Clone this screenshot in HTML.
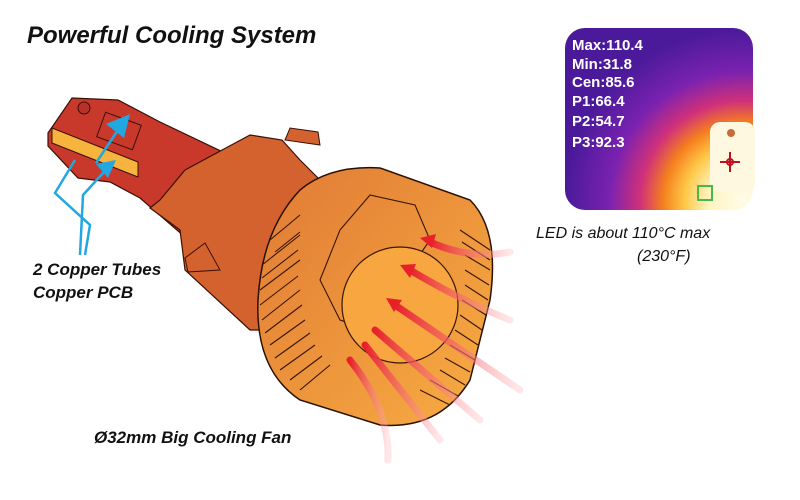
<!DOCTYPE html>
<html><head><style>
body{margin:0;background:#fff;}
#w{position:relative;width:800px;height:500px;overflow:hidden;font-family:"Liberation Sans",sans-serif;}
.t{position:absolute;font-style:italic;color:#111;white-space:nowrap;}
</style></head><body><div id="w">
<svg width="800" height="500" style="position:absolute;left:0;top:0">
<defs>
<radialGradient id="th" cx="0.95" cy="0.95" r="0.95">
<stop offset="0" stop-color="#fffbe8"/><stop offset="0.2" stop-color="#fff4c0"/>
<stop offset="0.33" stop-color="#ffc848"/><stop offset="0.45" stop-color="#f5801e"/>
<stop offset="0.58" stop-color="#d0307a"/><stop offset="0.75" stop-color="#7a22b0"/>
<stop offset="1" stop-color="#4a1a9a"/></radialGradient>
<linearGradient id="hd" x1="0" y1="0" x2="1" y2="1"><stop offset="0" stop-color="#e07a35"/><stop offset="1" stop-color="#f8ad42"/></linearGradient>
<linearGradient id="rf" x1="0" y1="0" x2="1" y2="0"><stop offset="0" stop-color="#e8202a"/><stop offset="1" stop-color="#ffb0b5" stop-opacity="0.3"/></linearGradient>
</defs>
<rect x="565" y="28" width="188" height="182" rx="20" fill="url(#th)"/>
<rect x="710" y="122" width="45" height="70" rx="10" fill="#fff8e0"/>
<circle cx="731" cy="133" r="4" fill="#c86a3a"/>
<g stroke="#c01020" stroke-width="2" fill="none"><circle cx="730" cy="162" r="3"/><line x1="720" y1="162" x2="740" y2="162"/><line x1="730" y1="152" x2="730" y2="172"/></g>
<rect x="698" y="186" width="14" height="14" fill="none" stroke="#4bb84b" stroke-width="2"/>
<g font-family="Liberation Sans" font-size="15" font-weight="bold" fill="#fff">
<text x="572" y="50">Max:110.4</text><text x="572" y="69">Min:31.8</text><text x="572" y="87">Cen:85.6</text>
<text x="572" y="106">P1:66.4</text><text x="572" y="126">P2:54.7</text><text x="572" y="147">P3:92.3</text></g>
<!-- stem -->
<polygon points="48,133 72,98 118,100 160,122 250,165 270,215 200,250 140,198 110,182 78,178 48,146" fill="#c8392c" stroke="#3a1008" stroke-width="1.2"/>
<polygon points="52,128 138,162 138,177 52,143" fill="#f6b43e" stroke="#3a1008" stroke-width="1"/>
<circle cx="84" cy="108" r="6" fill="#b8302a" stroke="#3a1008"/>
<rect x="100" y="118" width="38" height="26" fill="none" stroke="#3a1008" transform="rotate(20 119 131)"/>
<!-- base -->
<polygon points="185,170 250,135 282,140 300,160 330,190 350,220 300,330 250,330 185,270 180,230 150,208 160,200" fill="#d4622e" stroke="#3a1008" stroke-width="1.2"/>
<polygon points="285,140 290,128 318,132 320,145" fill="#d4622e" stroke="#3a1008"/>
<polygon points="185,258 205,243 220,270 188,272" fill="#d4622e" stroke="#3a1008"/>
<!-- head -->
<path d="M300,190 Q330,165 380,168 L470,200 Q500,230 490,300 L470,380 Q440,430 380,425 L300,400 Q255,370 258,300 Q262,230 300,190Z" fill="url(#hd)" stroke="#2a1005" stroke-width="1.5"/>
<g stroke="#3a1506" stroke-width="1.1" fill="none">
<path d="M270,240 L300,215 M262,265 L300,235 M260,290 L300,260 M262,320 L300,290 M270,345 L305,320 M280,370 L315,345 M300,390 L330,365"/>
<path d="M275,252 L300,232 M262,278 L298,250 M260,305 L298,276 M265,333 L302,305 M275,358 L310,333 M290,380 L322,356"/>
<path d="M460,230 L490,250 M465,255 L490,270 M465,285 L488,300 M460,315 L482,330 M450,345 L475,360 M440,370 L465,385 M420,390 L450,405"/>
<path d="M462,242 L490,260 M465,270 L489,285 M462,300 L486,315 M455,330 L478,345 M445,358 L470,372 M430,380 L458,396"/>
<polygon points="340,230 370,195 415,205 430,240 395,290 370,330 340,320 320,280"/>
</g>
<circle cx="400" cy="305" r="58" fill="#f7a640" stroke="#3a1506" stroke-width="1.2"/>
<!-- red heat arrows -->
<g stroke="url(#rf)" stroke-width="7" fill="none" stroke-linecap="round">
<path d="M430,242 Q470,260 510,252"/><path d="M410,270 Q460,300 510,320"/>
<path d="M395,305 L520,390"/><path d="M375,330 L480,420"/>
<path d="M365,345 L440,440"/><path d="M350,360 Q390,410 388,460"/>
</g>
<g fill="#e8202a"><polygon points="420,238 436,234 432,248"/><polygon points="400,265 416,264 410,278"/><polygon points="386,298 402,300 394,312"/></g>
<!-- blue arrows -->
<g stroke="#22a7e0" stroke-width="2.5" fill="none">
<polyline points="75,160 55,193 90,225 85,255"/><polyline points="80,255 83,195 104,172"/><polyline points="96,163 118,130"/>
</g>
<g fill="#22a7e0"><polygon points="130,114 106,124 124,138"/><polygon points="116,160 96,164 108,178"/></g>
</svg>
<div class="t" style="left:27px;top:22px;font-size:24px;font-weight:bold;">Powerful Cooling System</div>
<div class="t" style="left:536px;top:225px;font-size:16px;">LED is about 110°C max</div>
<div class="t" style="left:637px;top:248px;font-size:16px;">(230°F)</div>
<div class="t" style="left:33px;top:260px;font-size:17px;font-weight:bold;">2 Copper Tubes</div>
<div class="t" style="left:33px;top:283px;font-size:17px;font-weight:bold;">Copper PCB</div>
<div class="t" style="left:94px;top:428px;font-size:17px;font-weight:bold;">Ø32mm Big Cooling Fan</div>
</div></body></html>
